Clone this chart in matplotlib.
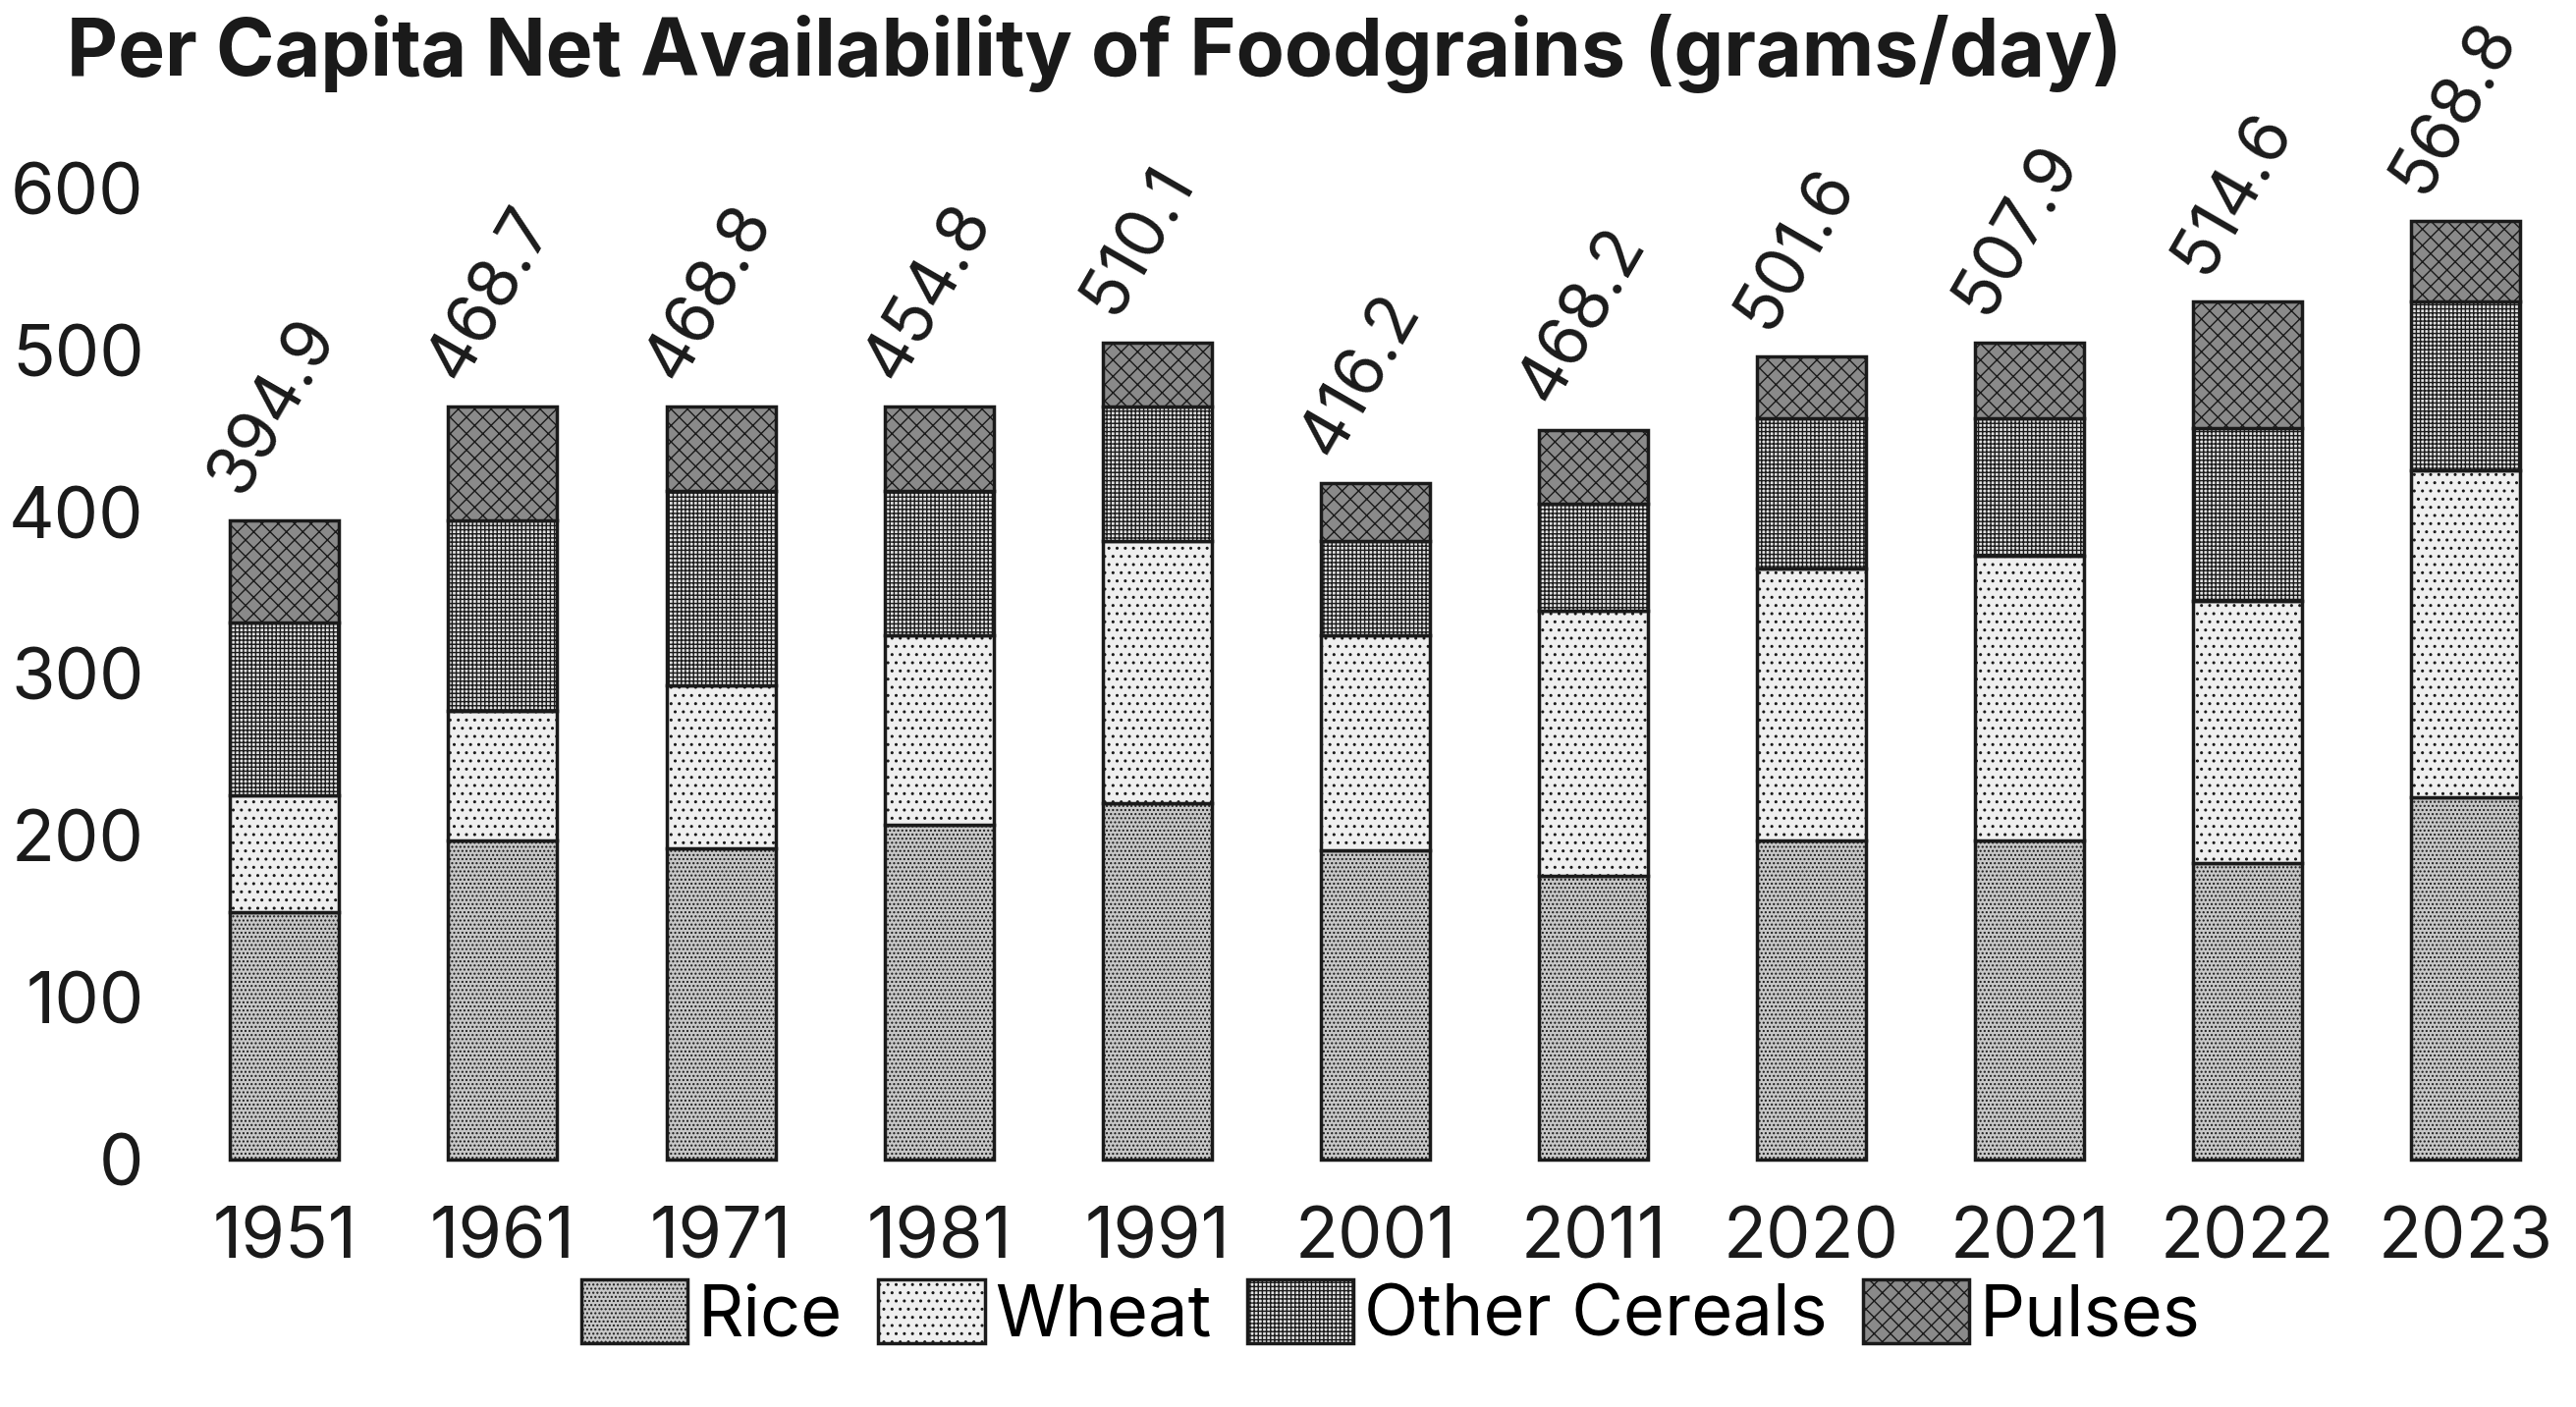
import matplotlib
matplotlib.use("Agg")
import matplotlib.pyplot as plt
import numpy as np

plt.rcParams['font.family'] = ['Inter', 'DejaVu Sans']
plt.rcParams['hatch.linewidth'] = 1.0

years = ['1951', '1961', '1971', '1981', '1991', '2001', '2011', '2020', '2021', '2022', '2023']
totals = ['394.9', '468.7', '468.8', '454.8', '510.1', '416.2', '468.2', '501.6', '507.9', '514.6', '568.8']
# segment heights as drawn in the picture (cumulative tops)
rice = [153, 197, 192, 207, 220, 191, 175, 197, 197, 183, 224]
wheat_top = [225, 277, 293, 324, 382, 324, 339, 365, 373, 345, 426]
other_top = [332, 395, 413, 413, 465, 382, 405, 458, 458, 452, 530]
pulses_top = [395, 465, 465, 465, 505, 418, 451, 496, 505, 530, 580]

rice = np.array(rice)
wheat = np.array(wheat_top) - rice
other = np.array(other_top) - np.array(wheat_top)
pulses = np.array(pulses_top) - np.array(other_top)

fig = plt.figure(figsize=(26.23, 14.33), dpi=100)
ax = fig.add_axes([0.058, 0.176, 0.934, 0.69])
x = np.arange(len(years))
w = 0.5

styles = [
    ('Rice', rice, '#c8c8c8', '....'),
    ('Wheat', wheat, '#efefef', '..'),
    ('Other Cereals', other, '#e2e2e2', '++++'),
    ('Pulses', pulses, '#8a8a8a', 'xx'),
]
bottom = np.zeros(len(years))
for name, vals, col, h in styles:
    ax.bar(x, vals, w, bottom=bottom, color=col, edgecolor='#1a1a1a',
           linewidth=2.5, hatch=h, label=name, clip_on=False)
    bottom = bottom + vals

for xi, top, lab in zip(x, pulses_top, totals):
    ax.text(xi - 0.14, top + 10, lab, rotation=60, ha='left', va='bottom',
            fontsize=50, color='#1a1a1a', rotation_mode='anchor', clip_on=False)

ax.set_ylim(0, 600)
ax.set_xlim(-0.62, 10.41)
ax.set_yticks([0, 100, 200, 300, 400, 500, 600])
ax.set_xticks(x)
ax.set_xticklabels(years)
ax.tick_params(length=0, labelsize=52, colors='#1a1a1a')
ax.tick_params(axis='x', pad=34)
ax.tick_params(axis='y', pad=4)
for s in ax.spines.values():
    s.set_visible(False)

fig.text(0.026, 0.962, 'Per Capita Net Availability of Foodgrains (grams/day)',
         fontsize=58, fontweight='bold', ha='left', va='center', color='#1a1a1a')

fig.legend(loc='lower center', bbox_to_anchor=(0.54, -0.005), ncol=4, frameon=False,
           fontsize=52, handlelength=1.5, handleheight=1.0, columnspacing=0.5,
           handletextpad=0.15)

fig.savefig('out.png', dpi=100)
